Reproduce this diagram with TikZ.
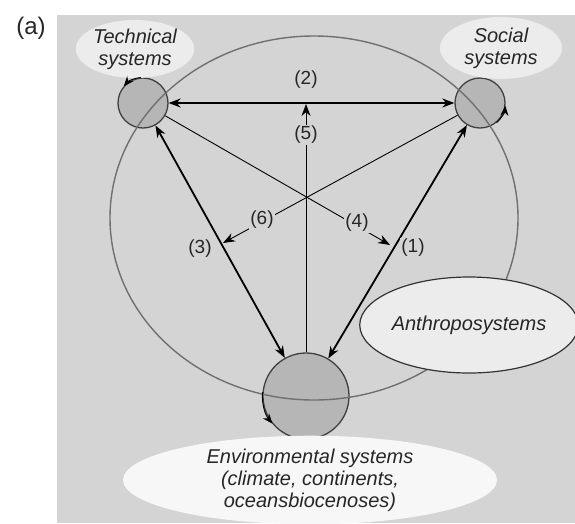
\documentclass[tikz,border=0pt]{standalone}
\usepackage{fontspec}
\setmainfont{Liberation Sans}
\usetikzlibrary{arrows.meta, shapes.geometric}

\definecolor{panel}{RGB}{212,212,212}
\definecolor{globe}{RGB}{182,182,182}
\definecolor{cloud}{RGB}{236,236,236}
\definecolor{rim}{RGB}{112,112,112}

\tikzset{
    sys/.style={circle, draw=black!75, line width=1.3pt, fill=globe, inner sep=0pt},
    tag/.style={ellipse, fill=cloud, inner sep=0pt, text=black!85, align=center,
        font=\itshape\fontsize{20}{22}\selectfont},
    num/.style={fill=panel, inner sep=1pt, text=black!85, font=\fontsize{19}{19}\selectfont},
    link/.style={line width=1.8pt},
    flow/.style={line width=0.9pt},
}

\begin{document}
\begin{tikzpicture}[x=1pt, y=-1pt, >={Stealth[length=12pt, width=9pt]}]
\useasboundingbox (0,0) rectangle (575,523);
\fill[panel] (57,15) rectangle (575,523);
\node (a) at (31,28) [font=\fontsize{24}{24}\selectfont, text=black!85] {(a)};

\node (tech) at (143,103) [sys, minimum size=50pt] {};
\node (soc) at (480,103) [sys, minimum size=50pt] {};
\node (env) at (306,396) [sys, minimum size=86pt] {};

% anthroposystem boundary
\draw[rim, line width=1.4pt] (314,218) ellipse [x radius=204, y radius=182];

\node (anthro) at (469,325) [tag, draw=black!80, line width=1.2pt,
    minimum width=212pt, minimum height=96pt] {Anthroposystems};
\node (techtag) at (135,49) [tag, minimum width=116pt, minimum height=58pt] {Technical\\systems};
\node (soctag) at (501,48) [tag, minimum width=122pt, minimum height=62pt] {Social\\systems};
\node (envtag) at (310,480) [tag, fill=white!97!black, minimum width=374pt, minimum height=84pt]
    {Environmental systems\\(climate, continents,\\oceansbiocenoses)};

\coordinate (c5) at (306,104);
\coordinate (e4) at (390,245);
\coordinate (e6) at (223,243);

\draw[link, <->] (tech) -- (soc);
\draw[link, <->] (tech) -- (env);
\draw[link, <->] (env) -- (soc);
\draw[flow, ->] (env) -- (c5);
\draw[flow, ->] (tech) -- (e4);
\draw[flow, ->] (soc) -- (e6);

% self loops
\draw[flow, -{Stealth[length=10pt, width=8pt]}] (tech.95) arc[start angle=-95, end angle=-140, radius=25];
\draw[flow, -{Stealth[length=10pt, width=8pt]}] (soc.-50) arc[start angle=50, end angle=5, radius=25];
\draw[flow, -{Stealth[length=10pt, width=8pt]}] (env.175) arc[start angle=-175, end angle=-220, radius=43];

\node (n2) at (306,80) [num] {(2)};
\node (n5) at (306,135) [num] {(5)};
\node (n3) at (200,249) [num] {(3)};
\node (n1) at (413,248) [num] {(1)};
\node (n6) at (262,220) [num] {(6)};
\node (n4) at (357,223) [num] {(4)};
\end{tikzpicture}
\end{document}
